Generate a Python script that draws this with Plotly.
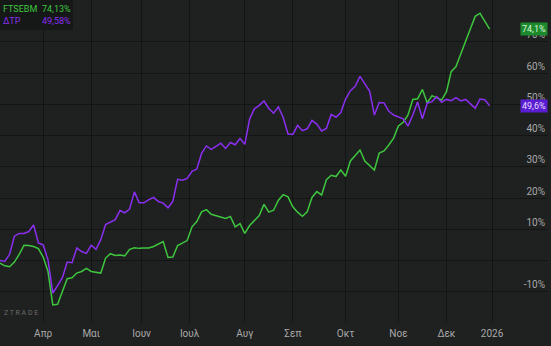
import pandas as pd
import plotly.graph_objects as go

# ---------------- data ----------------
start_day = "2025-03-05"
holidays = ["2025-03-25", "2025-04-18", "2025-04-21", "2025-05-01", "2025-06-09",
            "2025-08-15", "2025-10-28", "2025-12-24", "2025-12-25", "2025-12-26",
            "2025-12-31", "2026-01-01", "2026-01-06"]

# values every 2nd trading day, % change since start
ftsebm = [-0.8, -1.7, -2.0, -0.5, 2.0, 4.9, 4.8, 4.5, 3.8, 1.1,
          -3.5, -14.2, -14.0, -9.9, -5.8, -5.5, -4.0, -3.5, -2.5, -3.5,
          -3.7, -4.0, 0.8, 2.2, 1.6, 1.8, 1.5, 3.6, 4.1, 3.9,
          4.0, 4.0, 4.5, 5.3, 6.1, 1.0, 1.1, 4.8, 5.7, 6.4,
          10.8, 12.5, 15.6, 16.3, 14.8, 14.3, 13.9, 13.5, 14.1, 10.8,
          11.8, 8.7, 11.2, 12.8, 14.4, 18.0, 15.5, 16.1, 19.3, 21.1,
          20.4, 17.2, 15.5, 14.2, 15.6, 20.2, 22.1, 21.0, 25.9, 27.3,
          26.9, 29.0, 27.0, 31.9, 33.8, 35.4, 31.9, 30.3, 29.0, 34.4,
          35.1, 37.0, 39.2, 43.1, 44.3, 46.6, 51.6, 51.8, 54.8, 50.5,
          52.8, 52.1, 51.4, 54.0, 60.5, 62.1, 65.9, 70.2, 74.2, 78.2,
          79.2, 76.7, 74.13]

dtr = [0.0, -0.3, 2.0, 7.8, 8.7, 8.7, 9.3, 11.4, 5.6, 5.0,
       0.2, -10.4, -8.0, -5.5, -0.5, -0.7, 4.0, 2.9, 2.3, 4.9,
       3.6, 6.7, 11.5, 12.3, 13.1, 16.0, 15.3, 16.5, 22.0, 18.5,
       18.5, 19.5, 20.2, 18.9, 18.4, 16.9, 18.9, 26.0, 25.7, 26.3,
       28.6, 29.3, 34.3, 36.7, 35.6, 36.6, 37.6, 35.9, 37.8, 37.1,
       39.1, 37.2, 45.3, 48.6, 49.7, 51.1, 48.7, 47.2, 49.2, 45.8,
       40.5, 40.4, 43.3, 41.6, 42.2, 44.9, 43.7, 41.5, 42.3, 46.8,
       45.9, 47.4, 51.7, 54.4, 55.8, 59.0, 56.5, 54.3, 46.6, 50.6,
       50.5, 47.8, 46.6, 46.1, 45.4, 43.1, 46.6, 50.8, 45.4, 50.4,
       50.9, 52.5, 50.7, 51.6, 51.2, 52.2, 51.1, 51.6, 50.2, 48.8,
       51.7, 51.5, 49.58]

series_names = ["FTSEBM", "ΔΤΡ"]

x_tick_vals = ["2025-04-01", "2025-05-02", "2025-06-02", "2025-07-01", "2025-08-01",
               "2025-09-01", "2025-10-01", "2025-11-03", "2025-12-01", "2026-01-02",
               "2026-02-02"]
x_tick_text = ["Απρ", "Μαι", "Ιουν", "Ιουλ", "Αυγ", "Σεπ", "Οκτ", "Νοε", "Δεκ", "2026", ""]

y_tick_vals = [70, 60, 50, 40, 30, 20, 10, 0, -10]
y_tick_text = ["70%", "60%", "50%", "40%", "30%", "20%", "10%", "", "-10%"]

# ---------------- styling ----------------
GREEN = "#3ec63e"
PURPLE = "#8a2ff0"
BG = "#1f2020"
GRID = "#131414"
TXT = "#a9a9a9"
FONT = "Roboto"

tdays = pd.bdate_range(start_day, "2026-02-27")
tdays = tdays[~tdays.isin(pd.to_datetime(holidays))]
dates = tdays[0:2 * len(ftsebm):2]

fig = go.Figure()
fig.add_trace(go.Scatter(x=dates, y=ftsebm, mode="lines", name=series_names[0],
                         line=dict(color=GREEN, width=1.5), showlegend=False))
fig.add_trace(go.Scatter(x=dates, y=dtr, mode="lines", name=series_names[1],
                         line=dict(color=PURPLE, width=1.5), showlegend=False))

x_end = tdays[228] + pd.Timedelta(hours=8)

fig.update_layout(
    width=551, height=346,
    margin=dict(l=0, r=3, t=0, b=23),
    paper_bgcolor=BG, plot_bgcolor=BG,
    font=dict(family=FONT, color=TXT, size=10),
    xaxis=dict(
        type="date", range=[tdays[0], x_end],
        rangebreaks=[dict(bounds=["sat", "mon"]), dict(values=holidays)],
        tickmode="array", tickvals=x_tick_vals, ticktext=x_tick_text,
        showgrid=True, gridcolor=GRID, gridwidth=1,
        zeroline=False, showline=False, ticks="",
        tickfont=dict(size=10, color=TXT), ticklabelstandoff=3,
    ),
    yaxis=dict(
        side="right", range=[-20, 83.44],
        tickmode="array", tickvals=y_tick_vals, ticktext=y_tick_text,
        ticklabelposition="inside top",
        showgrid=True, gridcolor=GRID, gridwidth=1,
        zeroline=False, showline=False, ticks="",
        tickfont=dict(size=10, color=TXT),
    ),
)

W, H = 548.0, 323.0


def px(xp):
    return xp / W


def py(yp):
    return 1 - yp / H


# legend box top-left
fig.add_shape(type="rect", xref="paper", yref="paper",
              x0=0, x1=px(73), y0=py(30), y1=1,
              fillcolor="#161717", line=dict(width=0), layer="above")

legend_rows = [(series_names[0], ftsebm[-1], GREEN, 9), (series_names[1], dtr[-1], PURPLE, 21)]
for name, val, col, yp in legend_rows:
    fig.add_annotation(xref="paper", yref="paper", x=px(1), y=py(yp), text=name,
                       showarrow=False, xanchor="left", yanchor="middle",
                       font=dict(size=9, color=col, family=FONT))
    fig.add_annotation(xref="paper", yref="paper", x=px(40), y=py(yp),
                       text=f"{val:.2f}%".replace(".", ","),
                       showarrow=False, xanchor="left", yanchor="middle",
                       font=dict(size=9, color=col, family=FONT))

# last value tags on right axis
tags = [(ftsebm[-1], "#1c8a2c", "#d8f5d8"), (dtr[-1], "#5a1ed2", "#e8dcff")]
for val, bg, fc in tags:
    fig.add_annotation(xref="paper", yref="y", x=1, y=val,
                       text=f"{val:.1f}%".replace(".", ","),
                       showarrow=False, xanchor="right", yanchor="middle",
                       bgcolor=bg, borderpad=1,
                       font=dict(size=9, color=fc, family=FONT))

# watermark
fig.add_annotation(xref="paper", yref="paper", x=px(2), y=py(313), text="Z T R A D E",
                   showarrow=False, xanchor="left", yanchor="middle",
                   font=dict(size=7, color="#6b6b6b", family=FONT))

fig.write_html("out.html")
